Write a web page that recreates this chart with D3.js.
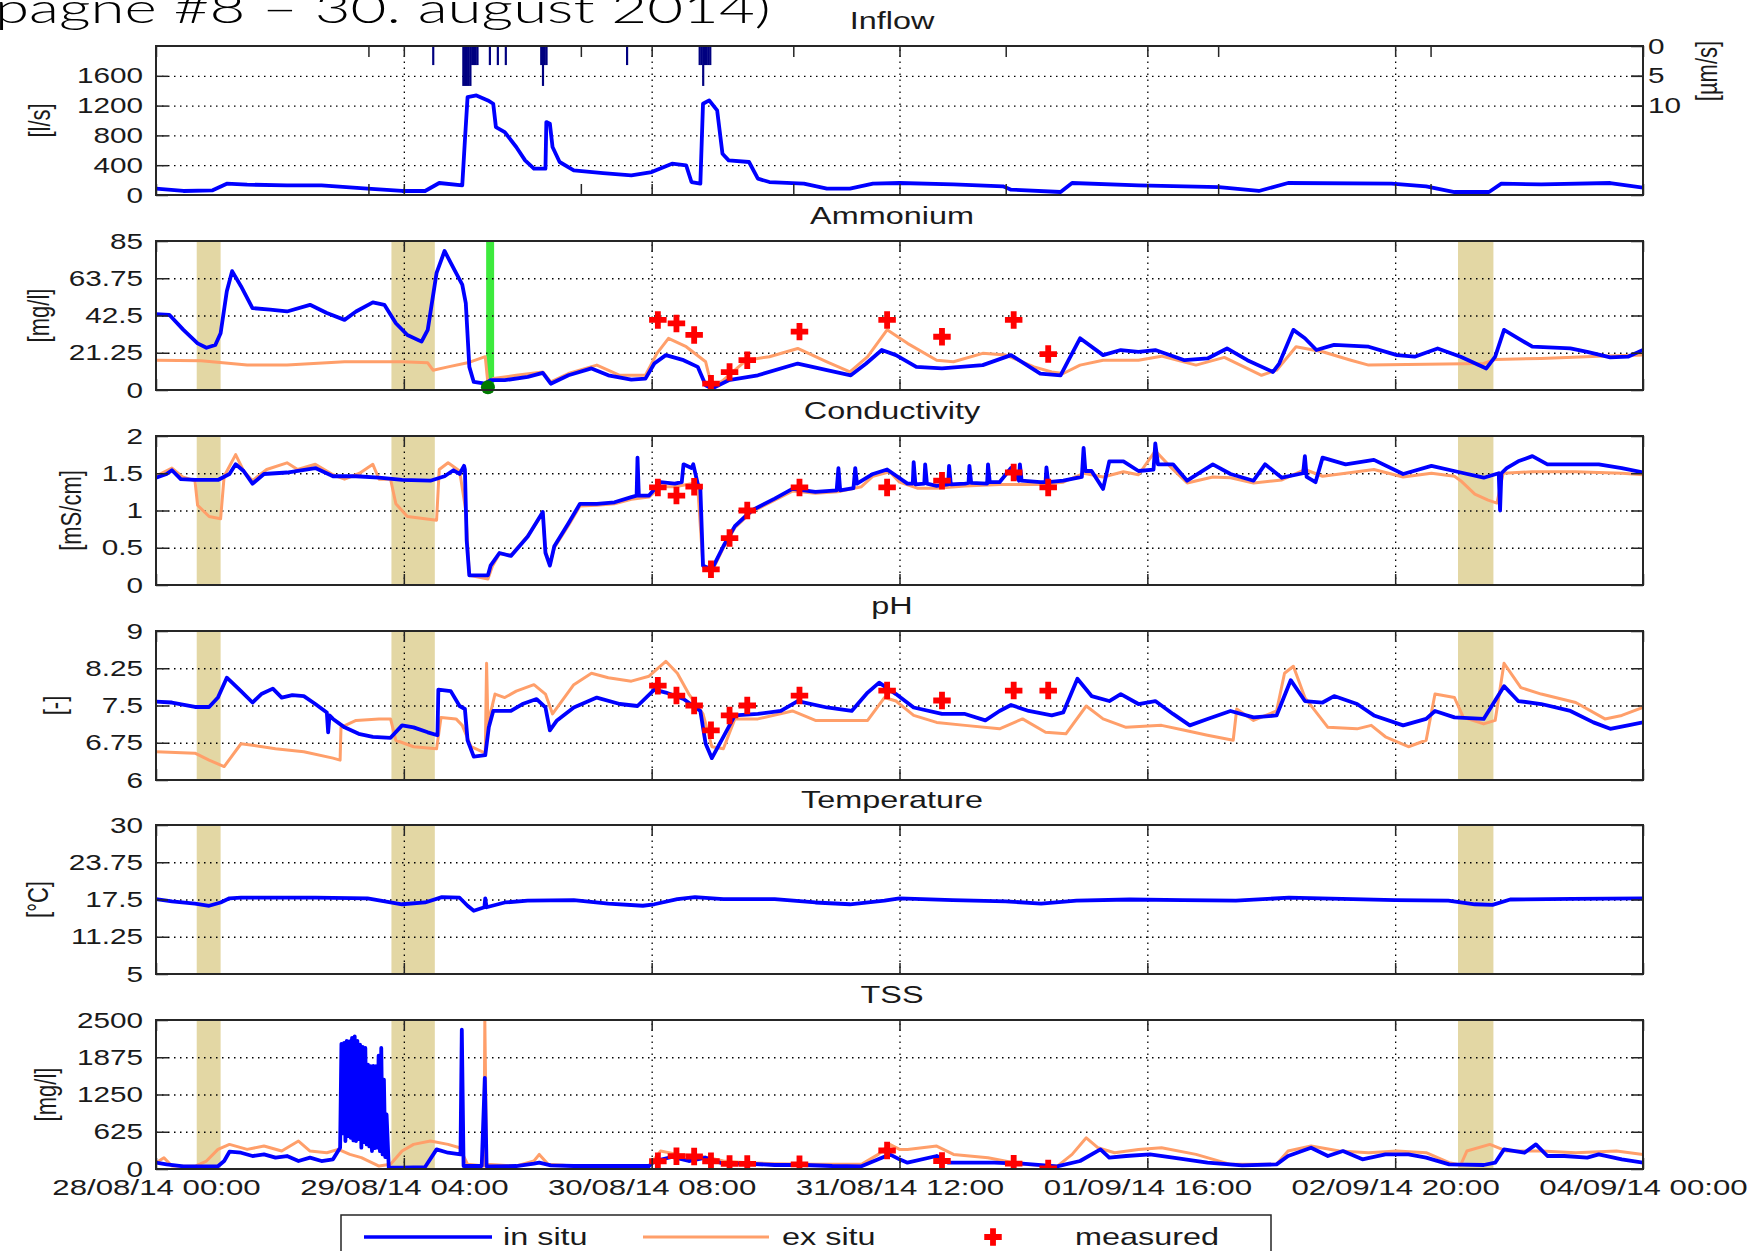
<!DOCTYPE html>
<html><head><meta charset="utf-8">
<script src="https://cdn.jsdelivr.net/npm/d3@7"></script>
<style>
body{margin:0;background:#fff;}
svg{display:block;}
text{font-family:"Liberation Sans",Arial,sans-serif;fill:#1a1a1a;}
</style>
</head><body>
<svg id="c" width="1753" height="1251"></svg>
<script>
// ---------------- DATA (hours since 28/08/14 00:00) ----------------
const xTickHours = [0,28,56,84,112,140,168];
const dayTickHours = [24,48,72,96,120,144];
const inflowTicks = [0,400,800,1200,1600];
const rainTicks = [0,5,10];
const nh4Ticks = [0,21.25,42.5,63.75,85];
const condTicks = [0,0.5,1,1.5,2];
const phTicks = [6,6.75,7.5,8.25,9];
const tempTicks = [5,11.25,17.5,23.75,30];
const tssTicks = [0,625,1250,1875,2500];

const bands = [[4.6,7.3],[26.6,31.5],[147.1,151.1]];
const greenBar = [37.3,38.2];
const greenDot = [37.5,1.5];

const rainT = [31.2,34.6,34.8,35.0,35.2,35.4,35.6,35.8,36.0,36.2,37.6,38.5,39.4,43.4,43.6,43.8,44.0,53.1,61.3,61.5,61.7,61.9,62.1,62.3,62.5];
const rainV = [3.2,6.7,6.7,6.7,6.7,6.7,3.2,3.2,3.2,3.2,3.2,3.2,3.2,3.2,6.7,3.2,3.2,3.2,3.2,3.2,6.7,3.2,3.2,3.2,3.2];

const inflow = [[0,85],[3.1,54],[6.4,63],[8,152],[10.3,139],[14.8,130],[18.7,130],[23.9,85],[27.8,54],[30.4,54],[32,161],[34.6,130],[34.9,733],[35.2,1314],[36.2,1336],[37.5,1270],[38.1,1225],[38.4,912],[39.4,845],[40.7,644],[41.7,465],[42.7,353],[44,353],[44.1,979],[44.5,957],[44.8,644],[45.6,443],[47.2,331],[50.5,295],[53.7,264],[56,308],[58.3,420],[59.9,398],[60.5,174],[61.5,152],[61.8,1225],[62.5,1270],[63.4,1135],[64,554],[64.7,465],[67,443],[68,219],[69.3,174],[73.2,152],[75.8,85],[78.4,85],[81,152],[84,161],[90.1,143],[95.7,116],[96.6,72],[102.2,40],[103.5,161],[111,130],[120.1,107],[124.6,54],[127.9,161],[139.6,152],[143.5,116],[146.7,40],[150.6,40],[152,152],[156.5,143],[164.3,161],[168,98]];

const nh4In = [[0,43.3],[1.5,42.9],[3.1,34.3],[4.7,26.6],[5.7,24.1],[6.7,25.7],[7.3,32.4],[8,56.3],[8.6,67.8],[9.6,59.2],[10.9,46.7],[12.9,45.8],[14.8,44.8],[17.4,48.6],[19.3,43.9],[21.3,40],[22.6,44.8],[24.5,50],[25.8,48.6],[27.1,38.1],[28.4,31.4],[30,27.6],[30.7,34.3],[31.7,66.8],[32.6,79.3],[33.6,69.7],[34.6,60.1],[35,49.6],[35.4,13.2],[35.9,4.6],[37.2,3.6],[37.8,5.6],[39.4,5.6],[42,7.5],[43.7,9.8],[44.6,3.6],[46.6,8.4],[49.2,12.3],[51.1,8.4],[53.7,5.9],[55.3,6.5],[56.3,15.1],[57.6,19.9],[59.6,17],[61.2,13.2],[62.1,2.7],[62.8,0.8],[64.7,5.6],[68,8.4],[72.5,15.1],[75.8,11.3],[78.5,8.4],[80.2,15],[82,22.8],[83.6,19.9],[85.9,13.2],[88.8,12.3],[93.4,14.2],[96.6,19.9],[99.9,9.4],[102.2,8.4],[103.1,17],[104.4,29.5],[107,19.9],[109,22.8],[111,21.8],[112.9,22.8],[116.2,17],[118.8,18],[121,23.7],[123.3,17],[126.2,10.3],[126.9,15.1],[128.5,34.3],[129.8,29.5],[131.1,22.8],[133.1,25.7],[137,24.7],[140.2,19.9],[142.2,19],[144.8,23.7],[147.4,19],[150.3,12.3],[151.3,19],[152.3,34.3],[153.9,29.5],[155.5,24.7],[159.8,23.7],[161.7,21.8],[164.3,18.6],[166.3,19],[168,22.8]];
const nh4Ex = [[0,17],[5.1,16.7],[10.3,14.2],[14.8,14.2],[21.3,16.1],[27.8,16.1],[30.7,15.5],[31.3,11.3],[33,13.2],[35.2,15.5],[37.2,19],[37.5,3.6],[38.1,6.5],[40.7,8.4],[43.7,10.3],[44.6,4.6],[46.6,9.4],[49.8,14.2],[52.4,8.4],[55.3,8.4],[56.6,20.9],[57.9,29.5],[59.9,24.7],[62.1,16.1],[62.8,1.7],[64.1,5.6],[66.7,17],[69.3,19],[72.5,23.7],[75.8,16.1],[78.4,10.3],[80.4,19],[82.6,34.3],[84.9,26.6],[88.2,17],[90.1,16.1],[93.4,20.9],[96,19.9],[99.2,13.2],[101.2,10.3],[102.5,9.4],[104.4,14.2],[107,17],[111,17],[113.6,19.3],[117.5,14.2],[120.7,18.6],[124.9,8.4],[126.6,11.3],[128.8,24.7],[131.8,21.8],[135,17],[137,14.2],[143.5,14.7],[150,15.1],[151.3,17.4],[156.5,18],[163,19.3],[168,19.9]];

const condIn = [[0,1.44],[1.2,1.49],[1.8,1.54],[2.8,1.42],[4.4,1.41],[7,1.41],[8.3,1.49],[9,1.62],[9.9,1.53],[10.9,1.36],[12.2,1.49],[14.8,1.51],[18,1.57],[20,1.46],[22.6,1.46],[25.2,1.44],[27.8,1.41],[31,1.40],[32.6,1.46],[33.6,1.54],[34.3,1.49],[34.8,1.60],[34.9,1.55],[35.1,0.6],[35.4,0.13],[37.5,0.13],[37.8,0.26],[38.8,0.43],[40.1,0.39],[42,0.65],[43.7,0.98],[44,0.43],[44.5,0.26],[45,0.52],[46.6,0.83],[47.9,1.09],[49.8,1.09],[51.8,1.11],[53.7,1.18],[54.3,1.2],[54.4,1.71],[54.55,1.2],[55.7,1.2],[57,1.38],[58.6,1.36],[59.4,1.38],[59.6,1.62],[60.5,1.57],[60.7,1.62],[61.2,1.36],[61.5,1.3],[61.8,0.26],[62.8,0.21],[64.1,0.52],[65.4,0.79],[67.3,1.0],[69.9,1.16],[71.9,1.29],[74.5,1.25],[76.9,1.27],[77.1,1.57],[77.3,1.27],[78.8,1.3],[79,1.57],[79.2,1.36],[81,1.49],[82.6,1.55],[84.9,1.36],[85.5,1.36],[85.6,1.65],[85.8,1.35],[86.8,1.36],[86.9,1.62],[87.1,1.36],[88.2,1.33],[89.5,1.35],[89.6,1.6],[89.8,1.35],[91.4,1.36],[91.8,1.37],[91.9,1.6],[92.1,1.37],[93.9,1.36],[94,1.62],[94.2,1.38],[95.3,1.38],[96.6,1.57],[97.5,1.4],[97.6,1.62],[97.8,1.4],[99.9,1.38],[100.5,1.38],[100.6,1.58],[100.8,1.38],[102.5,1.40],[104.6,1.45],[104.8,1.84],[105,1.53],[105.7,1.53],[107,1.29],[107.7,1.66],[109.3,1.66],[111,1.53],[112.7,1.55],[112.9,1.90],[113.2,1.62],[114.9,1.62],[116.5,1.40],[119.4,1.62],[121.4,1.49],[124,1.40],[125.3,1.62],[127.2,1.44],[129.6,1.5],[129.8,1.73],[130,1.45],[131,1.38],[131.8,1.71],[134.4,1.62],[137.6,1.68],[140.9,1.49],[144.1,1.60],[147.4,1.51],[150,1.44],[151.7,1.5],[151.85,1.0],[152.0,1.5],[152.6,1.57],[153.9,1.66],[155.5,1.73],[157.2,1.62],[160.4,1.62],[163,1.62],[165.6,1.57],[168,1.51]];
const condEx = [[0,1.46],[1.8,1.57],[3,1.45],[4.4,1.40],[4.7,1.07],[6,0.92],[7.3,0.89],[7.7,1.46],[9,1.75],[9.9,1.53],[10.9,1.40],[12.5,1.55],[14.8,1.64],[16,1.55],[18,1.62],[20,1.48],[21.3,1.42],[23,1.50],[24.5,1.62],[25.2,1.42],[26.5,1.42],[27.1,1.09],[28.4,0.92],[31.7,0.87],[32,1.55],[33,1.64],[34.3,1.53],[35.0,1.0],[35.4,0.13],[37.5,0.08],[38,0.25],[38.8,0.42],[40.1,0.40],[42,0.66],[43.7,0.96],[44,0.45],[44.5,0.28],[45,0.5],[46.6,0.8],[47.9,1.06],[49.8,1.07],[51.8,1.09],[53.7,1.15],[55.7,1.18],[57,1.32],[58.6,1.32],[60.5,1.36],[61.2,1.32],[61.8,0.26],[62.8,0.18],[64.1,0.5],[65.4,0.77],[67.3,0.98],[69.9,1.14],[71.9,1.26],[74.5,1.23],[77,1.25],[79.7,1.32],[81,1.46],[82.9,1.52],[84,1.38],[86,1.30],[88.2,1.30],[91.4,1.33],[95.3,1.35],[99.9,1.35],[102.5,1.38],[104.8,1.50],[107,1.45],[109.3,1.52],[111,1.48],[112.9,1.80],[114.9,1.55],[116.5,1.37],[119.4,1.45],[121.4,1.44],[124,1.37],[127.2,1.41],[129.8,1.55],[131.8,1.46],[134.4,1.50],[137.6,1.55],[140.9,1.45],[144.1,1.50],[146.7,1.46],[147.4,1.40],[149,1.22],[150.5,1.14],[151.5,1.10],[152.2,1.50],[155.5,1.52],[160.4,1.52],[165.6,1.50],[168,1.48]];

const phIn = [[0,7.58],[1.8,7.56],[4.4,7.47],[6,7.47],[7,7.66],[8,8.06],[8.6,7.96],[9.6,7.79],[10.9,7.56],[11.9,7.73],[13.2,7.84],[14.2,7.66],[15.4,7.71],[16.7,7.69],[18,7.53],[19.3,7.36],[19.45,6.96],[19.6,7.3],[20,7.23],[21.3,7.06],[22.9,6.93],[24.5,6.87],[26.5,6.85],[27.8,7.10],[29.1,7.06],[30.7,6.96],[31.8,6.90],[31.9,7.82],[33.3,7.79],[34.3,7.49],[34.9,7.43],[35.2,6.80],[35.9,6.47],[37.2,6.50],[37.6,7.06],[38.1,7.39],[40.1,7.39],[41.4,7.53],[43,7.63],[44,7.46],[44.5,7.0],[45.3,7.2],[47.2,7.46],[49.8,7.66],[52.4,7.53],[54.4,7.49],[56.3,7.82],[57.6,7.76],[59.6,7.63],[61.5,7.39],[62.1,6.73],[62.8,6.44],[64.1,6.87],[65.4,7.30],[68,7.33],[70.6,7.39],[72.5,7.59],[75.8,7.46],[78.6,7.39],[80.4,7.76],[81.7,7.96],[83.6,7.73],[85.6,7.46],[88.8,7.33],[91.4,7.33],[93.7,7.20],[95.3,7.39],[96.6,7.51],[98.6,7.39],[101.2,7.30],[102.5,7.36],[104.1,8.04],[105.7,7.69],[107.7,7.59],[109,7.73],[111,7.53],[112.9,7.59],[114.9,7.33],[116.8,7.10],[118.8,7.23],[121.4,7.39],[124,7.26],[126.6,7.30],[128.2,8.01],[129.8,7.59],[131.8,7.56],[133.1,7.69],[135.7,7.53],[137.6,7.30],[140.9,7.10],[143.5,7.23],[144.5,7.39],[146.7,7.26],[150,7.23],[152.3,7.89],[153.9,7.59],[156.5,7.53],[159.8,7.39],[162.4,7.16],[164.3,7.03],[166.3,7.10],[168,7.16]];
const phEx = [[0,6.57],[4.4,6.54],[6,6.40],[7.7,6.27],[9.6,6.73],[10.9,6.70],[13.5,6.63],[16.7,6.57],[20,6.44],[20.8,6.40],[20.9,7.06],[22.6,7.20],[25.2,7.23],[26.5,7.23],[27.1,6.80],[29.1,6.67],[31.7,6.63],[32.2,7.26],[33.9,7.23],[34.6,7.10],[35.6,6.67],[37.2,6.54],[37.35,8.35],[37.5,7.13],[38.3,7.73],[39.4,7.66],[40.7,7.79],[42.7,7.92],[44,7.73],[44.8,7.33],[47.2,7.92],[49.2,8.15],[51.1,8.06],[53.7,7.99],[55.7,8.09],[57.6,8.39],[58.9,8.15],[60.2,7.73],[61.8,7.33],[62.8,6.67],[64.1,6.63],[65.4,7.23],[68,7.23],[71.9,7.39],[74.5,7.20],[78.4,7.20],[80.4,7.20],[82.3,7.66],[83.6,7.59],[85.6,7.30],[88.2,7.16],[91.4,7.10],[95.3,7.03],[97.9,7.23],[100.5,6.96],[102.8,6.93],[105.1,7.49],[107,7.23],[109.6,7.06],[113.6,7.10],[116.2,7.00],[118.8,6.90],[121.7,6.80],[122.1,7.43],[124,7.20],[126.6,7.39],[127.5,8.15],[128.5,8.29],[129.8,7.66],[132.4,7.06],[135.7,7.03],[137.3,7.10],[138.9,6.87],[141.5,6.67],[143.5,6.80],[144.5,7.73],[146.7,7.66],[147.7,7.26],[150,7.13],[151.3,7.20],[152.3,8.35],[154.2,7.86],[156.5,7.73],[160.4,7.56],[163.7,7.23],[165.6,7.30],[168,7.46]];

const tempIn = [[0,17.55],[1.8,17.2],[4.4,16.8],[6,16.45],[7.3,17.0],[8.3,17.7],[9.6,17.8],[12.9,17.8],[18,17.8],[23.9,17.7],[26.5,17.0],[27.8,16.7],[30.4,17.0],[32.3,17.9],[34.3,17.8],[35.2,16.45],[35.9,15.6],[37.1,16.2],[37.2,17.7],[37.35,16.2],[39.4,17.0],[42,17.3],[47.2,17.4],[51.1,16.8],[55,16.45],[56.3,16.7],[58.9,17.55],[60.9,17.9],[64.1,17.55],[69.9,17.55],[74.5,17.0],[78.4,16.7],[82.3,17.3],[84,17.7],[90,17.4],[96,17.2],[100,16.8],[104,17.3],[110,17.5],[116,17.4],[122,17.3],[128,17.8],[134,17.6],[140,17.4],[146,17.3],[149,16.7],[151,16.6],[153,17.5],[160,17.6],[168,17.7]];

const tssIn = [[0,106],[1.2,78],[3.1,45],[7,45],[7.7,134],[8.3,290],[9.6,273],[10.9,218],[12.2,245],[13.5,190],[14.8,218],[16.1,134],[17.4,190],[18.7,134],[20,162],[20.8,357],[20.95,2100],[21.1,600],[21.25,2115],[21.4,469],[21.55,2150],[21.7,550],[21.85,2143],[22.0,524],[22.15,2200],[22.3,480],[22.45,2226],[22.6,469],[22.75,2150],[22.9,500],[23.05,2087],[23.2,357],[23.35,2050],[23.5,450],[23.65,2031],[23.8,413],[23.95,1750],[24.1,380],[24.25,1724],[24.4,301],[24.55,1730],[24.7,350],[24.85,1724],[25.0,357],[25.15,1900],[25.3,300],[25.45,2031],[25.6,245],[25.75,1500],[25.9,200],[26.05,915],[26.3,22],[27.8,22],[30.4,33],[31.7,329],[33,273],[34.4,245],[34.55,2338],[34.75,50],[36.8,50],[37.15,1529],[37.35,45],[40.7,50],[42.7,89],[43.3,106],[44.6,61],[47.2,50],[55.7,50],[56.3,134],[58.3,201],[60.2,134],[62.1,190],[64.1,89],[66.7,89],[69.9,67],[73.2,67],[76.4,50],[79.7,45],[81.6,162],[82.9,245],[84,162],[84.9,106],[88.2,218],[89.5,106],[94.7,106],[97.9,89],[101.8,45],[104.4,134],[106.7,329],[107.7,190],[109.6,218],[112.3,245],[114.9,190],[118.8,106],[122.7,61],[126.6,78],[127.9,218],[130.5,357],[132.4,218],[134.1,301],[136.3,162],[138.9,245],[141.5,245],[143.5,190],[146.1,78],[150,67],[151.3,106],[152.3,329],[154.6,273],[155.9,413],[157.2,218],[159.1,218],[161.7,190],[163,245],[165.6,162],[168,106]];
const tssEx = [[0,106],[0.9,190],[1.8,50],[4.4,45],[5.7,134],[7,329],[8.3,413],[10.3,329],[12.2,385],[14.2,301],[16.1,469],[17.4,301],[19.3,273],[20.6,329],[21.9,245],[23.2,190],[25.2,50],[26.5,78],[27.8,301],[29.1,413],[31,469],[33,413],[34.3,357],[35.2,78],[37.05,50],[37.15,2500],[37.35,78],[40.7,50],[42.7,134],[43.3,245],[44.3,78],[47.2,50],[55.7,50],[57,301],[58.9,245],[61.5,218],[64.1,134],[66.7,106],[69.9,89],[74.5,78],[79.7,78],[81.6,245],[82.9,413],[84,329],[84.9,329],[88.2,385],[90.1,245],[94,190],[97.9,78],[101.8,45],[103.5,245],[105.1,524],[106.4,357],[108.3,273],[111,329],[113.6,357],[117.5,245],[121.4,78],[126.6,78],[127.9,301],[130.5,385],[133.7,301],[137,273],[140.2,301],[143.5,273],[146.1,106],[147.4,67],[148.1,301],[150.7,413],[152.6,301],[156.5,301],[160.4,273],[165,301],[168,245]];

const measT = [56.7,58.8,60.8,62.7,64.8,66.8,72.7,82.6,88.8,96.9,100.8];
const measNH4 = [40,38,31.4,3.6,10.2,17,33.3,40,30.4,40,20.5];
const measCond = [1.31,1.2,1.32,0.21,0.63,1.0,1.31,1.31,1.40,1.51,1.31];
const measPH = [7.9,7.7,7.5,7.0,7.3,7.5,7.7,7.8,7.6,7.8,7.8];
const measTSS = [130,215,210,130,85,85,78,310,134,89,10];

const legendLabels = ["in situ","ex situ","measured"];

// ---------------- LAYOUT / STYLE ----------------
const BLUE="#0000FF", ORANGE="#FF9F6A", TAN="#E3D7A4", RED="#FF0000", NAVY="#000080", GREEN="#3DEA3D", DKGREEN="#007A00", AX="#262626";
const L=156, R=1643, PH=149;
const tops=[46,241,436,631,825,1020];
const S=1.35, SD=1.42, FS=22;

const svg=d3.select("#c");
const t0=Date.UTC(2014,7,28,0,0);
const hr=h=>new Date(t0+h*3600e3);
const x=d3.scaleUtc().domain([hr(0),hr(168)]).range([L,R]);
const xTicks=xTickHours.map(hr);
const fmt=d3.utcFormat("%d/%m/%y %H:%M");

function stretch(sel,s){
  sel.each(function(){
    const t=d3.select(this); const ax=+t.attr("x")||0;
    t.attr("transform",`translate(${ax},0) scale(${s},1) translate(${-ax},0)`);
  });
}

// heading (cut off at the top and left)
svg.append("text").attr("transform","translate(-5,23) scale(1.45,1)").attr("x",0).attr("y",0)
  .attr("font-size",41).attr("font-weight",300)
  .style("font-family","Lato, 'Open Sans', 'Liberation Sans', sans-serif")
  .attr("textLength",535).attr("lengthAdjust","spacingAndGlyphs")
  .style("fill","#000").text("pagne #8 – 30. august 2014)");

const panels=[
 {title:"Inflow",unit:"[l/s]",domain:[0,2000],ticks:inflowTicks,series:[[inflow,BLUE,3.8]],bands:false,lab:37},
 {title:"Ammonium",unit:"[mg/l]",domain:[0,85],ticks:nh4Ticks,series:[[nh4Ex,ORANGE,3],[nh4In,BLUE,3.8]],meas:measNH4,bands:true,lab:30},
 {title:"Conductivity",unit:"[mS/cm]",domain:[0,2],ticks:condTicks,series:[[condEx,ORANGE,3],[condIn,BLUE,3.8]],meas:measCond,bands:true,lab:31},
 {title:"pH",unit:"[-]",domain:[6,9],ticks:phTicks,series:[[phEx,ORANGE,3],[phIn,BLUE,3.8]],meas:measPH,bands:true,lab:31},
 {title:"Temperature",unit:"[°C]",domain:[5,30],ticks:tempTicks,series:[[tempIn,BLUE,3.8]],bands:true,lab:31},
 {title:"TSS",unit:"[mg/l]",domain:[0,2500],ticks:tssTicks,series:[[tssEx,ORANGE,3],[tssIn,BLUE,3.8]],meas:measTSS,bands:true,lab:31}
];

const cross=d3.symbol().type(d3.symbolCross).size(170);

panels.forEach((p,i)=>{
  const top=tops[i], bot=top+PH;
  const y=d3.scaleLinear().domain(p.domain).range([bot,top]);
  const g=svg.append("g");
  g.append("clipPath").attr("id","cp"+i).append("rect").attr("x",L).attr("y",top).attr("width",R-L).attr("height",PH);
  const inner=g.append("g").attr("clip-path",`url(#cp${i})`);

  if(p.bands) bands.forEach(b=>inner.append("rect").attr("x",x(hr(b[0]))).attr("width",x(hr(b[1]))-x(hr(b[0])))
      .attr("y",top).attr("height",PH).attr("fill",TAN));
  if(i===1) inner.append("rect").attr("x",x(hr(greenBar[0]))).attr("width",x(hr(greenBar[1]))-x(hr(greenBar[0])))
      .attr("y",top).attr("height",PH).attr("fill",GREEN);

  // grid
  const gx=inner.append("g").attr("transform",`translate(0,${bot})`)
    .call(d3.axisBottom(x).tickValues(xTicks.slice(1,-1)).tickSize(-PH).tickFormat(""));
  const gridVals=p.ticks.filter(v=>v!==p.domain[0]&&v!==p.domain[1]);
  const gy=inner.append("g").attr("transform",`translate(${L},0)`)
    .call(d3.axisLeft(y).tickValues(gridVals).tickSize(-(R-L)).tickFormat(""));
  [gx,gy].forEach(a=>{a.select(".domain").remove();
    a.selectAll("line").attr("stroke","#000").attr("stroke-width",1.3).attr("stroke-dasharray","1.5,4.5");});

  // rain bars (inflow panel)
  if(i===0){
    const yr=d3.scaleLinear().domain([0,25]).range([top,bot]);
    inner.selectAll("rect.rain").data(rainT.map((t,k)=>[t,rainV[k]])).join("rect").attr("class","rain")
      .attr("x",d=>x(hr(d[0]))).attr("width",d=>x(hr(d[0]+0.2))-x(hr(d[0]))+0.4)
      .attr("y",top).attr("height",d=>yr(d[1])-top).attr("fill",NAVY);
    const ar=g.append("g").attr("transform",`translate(${R},0)`)
      .call(d3.axisRight(yr).tickValues(rainTicks).tickSize(-12).tickPadding(5).tickFormat(d=>String(d)));
    ar.select(".domain").remove();
    ar.selectAll("line").attr("stroke",AX).attr("stroke-width",1.5);
    ar.selectAll("text").attr("font-size",FS).attr("fill","#1a1a1a").call(stretch,S);
    g.append("text").attr("transform",`translate(1707,71) scale(${S},1) rotate(-90)`)
      .attr("text-anchor","middle").attr("dy","0.35em").attr("font-size",FS).text("[µm/s]");
  }

  // series
  const line=d3.line().x(d=>x(hr(d[0]))).y(d=>y(d[1]));
  p.series.forEach(([d,c,w])=>inner.append("path").datum(d).attr("d",line)
     .attr("fill","none").attr("stroke",c).attr("stroke-width",w).attr("stroke-linejoin","round"));

  if(p.meas) inner.selectAll("path.m").data(measT.map((t,k)=>[t,p.meas[k]])).join("path").attr("class","m")
     .attr("d",cross).attr("fill",RED).attr("transform",d=>`translate(${x(hr(d[0]))},${y(d[1])})`);
  if(i===1) g.append("circle").attr("cx",x(hr(greenDot[0]))).attr("cy",y(greenDot[1])).attr("r",7).attr("fill",DKGREEN);

  // box
  g.append("rect").attr("x",L).attr("y",top).attr("width",R-L).attr("height",PH)
    .attr("fill","none").attr("stroke",AX).attr("stroke-width",2);

  // ticks
  const tickStyle=a=>{a.select(".domain").remove(); a.selectAll("line").attr("stroke",AX).attr("stroke-width",1.5);};
  const xb=g.append("g").attr("transform",`translate(0,${bot})`)
    .call(d3.axisBottom(x).tickValues(xTicks).tickSize(-11).tickPadding(10).tickFormat(i===5?fmt:""));
  tickStyle(xb);
  if(i===5) xb.selectAll("text").attr("font-size",FS).attr("fill","#1a1a1a").call(stretch,SD);
  const xt=g.append("g").attr("transform",`translate(0,${top})`)
    .call(d3.axisTop(x).tickValues(xTicks).tickSize(-11).tickFormat(""));
  tickStyle(xt);
  if(i===0){
    const dt=dayTickHours.map(hr);
    tickStyle(g.append("g").attr("transform",`translate(0,${bot})`).call(d3.axisBottom(x).tickValues(dt).tickSize(-11).tickFormat("")));
    tickStyle(g.append("g").attr("transform",`translate(0,${top})`).call(d3.axisTop(x).tickValues(dt).tickSize(-11).tickFormat("")));
  }
  const yl=g.append("g").attr("transform",`translate(${L},0)`)
    .call(d3.axisLeft(y).tickValues(p.ticks).tickSize(-12).tickPadding(13).tickFormat(d=>String(d)));
  tickStyle(yl);
  yl.selectAll("text").attr("font-size",FS).attr("fill","#1a1a1a").call(stretch,S);
  const yr2=g.append("g").attr("transform",`translate(${R},0)`)
    .call(d3.axisRight(y).tickValues(p.ticks).tickSize(-12).tickFormat(""));
  tickStyle(yr2);

  // title
  g.append("text").attr("transform",`translate(892,${top-17}) scale(${S},1)`).attr("text-anchor","middle")
    .attr("font-size",24).text(p.title);

  // y label
  let minLeft=1e9;
  yl.selectAll("text").each(function(){minLeft=Math.min(minLeft,this.getBoundingClientRect().left);});
  const cx=minLeft-p.lab;
  g.append("text").attr("transform",`translate(${cx},${top+PH/2}) scale(${S},1) rotate(-90)`)
    .attr("text-anchor","middle").attr("dy","0.35em").attr("font-size",FS).text(p.unit);
});

// legend
const lg=svg.append("g");
lg.append("rect").attr("x",341).attr("y",1215).attr("width",930).attr("height",60)
  .attr("fill","#fff").attr("stroke",AX).attr("stroke-width",1.5);
const LY=1237;
lg.append("line").attr("x1",364).attr("x2",492).attr("y1",LY).attr("y2",LY).attr("stroke",BLUE).attr("stroke-width",3.5);
lg.append("line").attr("x1",643).attr("x2",769).attr("y1",LY).attr("y2",LY).attr("stroke",ORANGE).attr("stroke-width",3);
lg.append("path").attr("d",cross).attr("fill",RED).attr("transform",`translate(993,${LY})`);
[[503,legendLabels[0]],[782,legendLabels[1]],[1075,legendLabels[2]]].forEach(([lx,t])=>
  lg.append("text").attr("transform",`translate(${lx},${LY+8}) scale(${S},1)`).attr("font-size",24).text(t));
</script>
</body></html>
